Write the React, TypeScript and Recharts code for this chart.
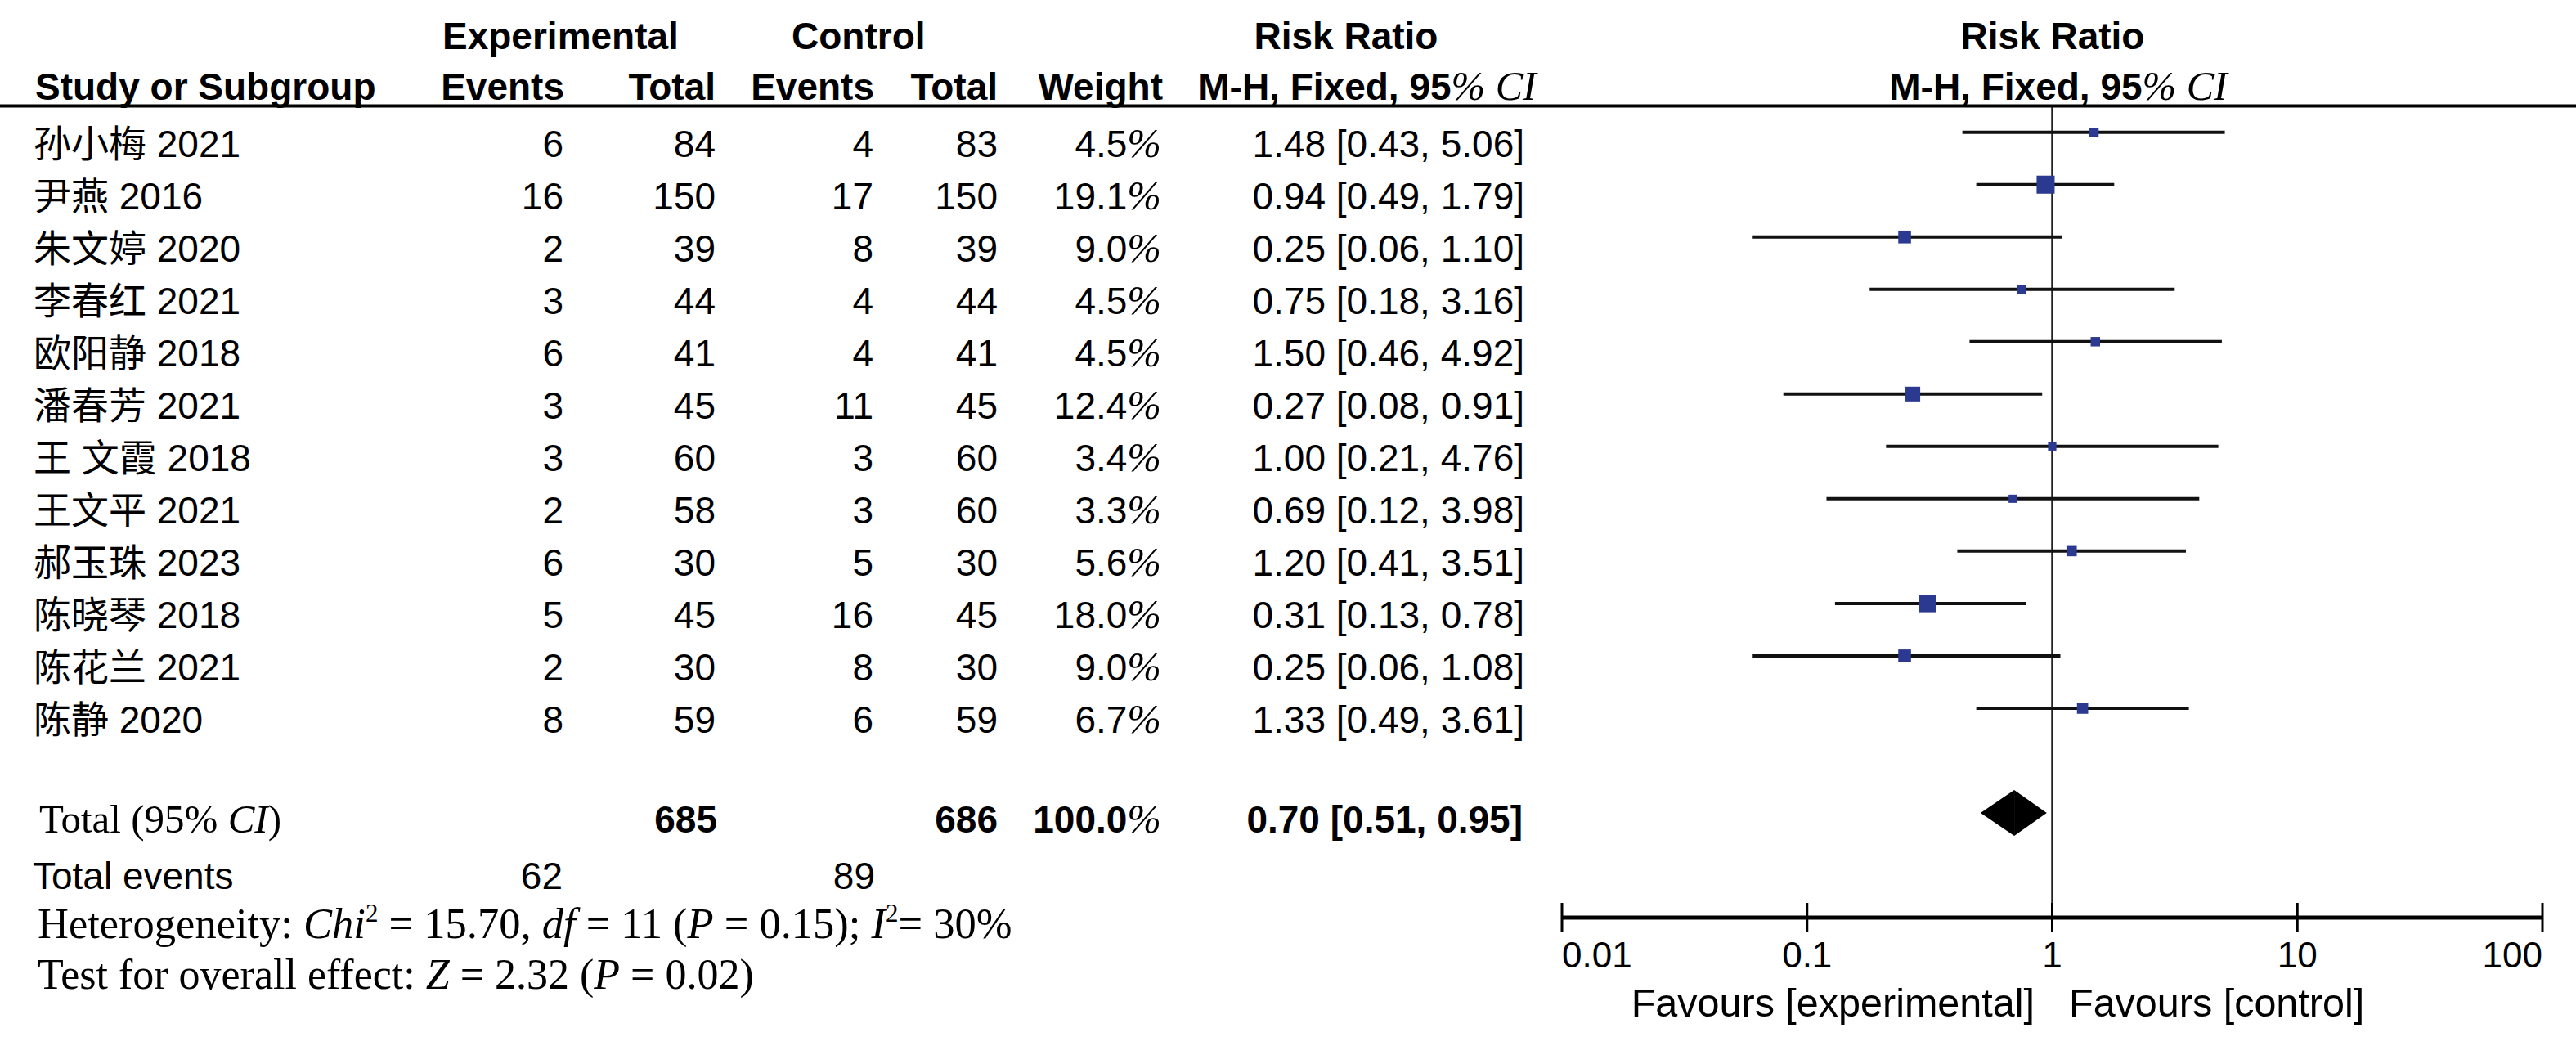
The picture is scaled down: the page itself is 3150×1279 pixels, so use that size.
import React from "react";
import {
  ComposedChart,
  XAxis,
  YAxis,
  Scatter,
  ReferenceLine,
} from "recharts";

const studies = [
  "孙小梅 2021",
  "尹燕 2016",
  "朱文婷 2020",
  "李春红 2021",
  "欧阳静 2018",
  "潘春芳 2021",
  "王 文霞 2018",
  "王文平 2021",
  "郝玉珠 2023",
  "陈晓琴 2018",
  "陈花兰 2021",
  "陈静 2020",
];
const expEvents = [6, 16, 2, 3, 6, 3, 3, 2, 6, 5, 2, 8];
const expTotal = [84, 150, 39, 44, 41, 45, 60, 58, 30, 45, 30, 59];
const ctrlEvents = [4, 17, 8, 4, 4, 11, 3, 3, 5, 16, 8, 6];
const ctrlTotal = [83, 150, 39, 44, 41, 45, 60, 60, 30, 45, 30, 59];
const weights = [4.5, 19.1, 9.0, 4.5, 4.5, 12.4, 3.4, 3.3, 5.6, 18.0, 9.0, 6.7];
const riskRatio = [1.48, 0.94, 0.25, 0.75, 1.5, 0.27, 1.0, 0.69, 1.2, 0.31, 0.25, 1.33];
const ciLow = [0.43, 0.49, 0.06, 0.18, 0.46, 0.08, 0.21, 0.12, 0.41, 0.13, 0.06, 0.49];
const ciHigh = [5.06, 1.79, 1.1, 3.16, 4.92, 0.91, 4.76, 3.98, 3.51, 0.78, 1.08, 3.61];

const total = { exp: 685, ctrl: 686, rr: 0.7, lo: 0.51, hi: 0.95, weight: 100.0 };
const totalEvents = { exp: 62, ctrl: 89 };
const xTicks = [0.01, 0.1, 1, 10, 100];
const TOTAL_ROW = 13;

const rows = studies.map((name, i) => ({
  row: i,
  name,
  expEvents: expEvents[i],
  expTotal: expTotal[i],
  ctrlEvents: ctrlEvents[i],
  ctrlTotal: ctrlTotal[i],
  weight: weights[i],
  rr: riskRatio[i],
  lo: ciLow[i],
  hi: ciHigh[i],
}));
const textRows = [...rows, { row: TOTAL_ROW, rr: total.rr, isTotal: true }];

const SANS = "'Liberation Sans', Arial, 'Noto Sans CJK SC', sans-serif";
const SERIF = "'Liberation Serif', 'Times New Roman', serif";
const FS = 46;
const BLUE = "#2B3990";

const fmt2 = (v: number) => v.toFixed(2);
const ciText = (rr: number, lo: number, hi: number) =>
  `${fmt2(rr)} [${fmt2(lo)}, ${fmt2(hi)}]`;

const Pct = () => (
  <tspan fontFamily={SERIF} fontStyle="italic" fontSize={50} fontWeight="normal">
    %
  </tspan>
);

// table text for each row, placed on the same y scale as the markers
const RowText = (props: any) => {
  const { cy, payload } = props;
  if (cy == null) return null;
  if (payload.isTotal) {
    const b = cy + 24;
    return (
      <g fontFamily={SANS} fontSize={FS} fill="#000">
        <text x={48} y={b} fontFamily={SERIF} fontSize={49}>
          Total (95% <tspan fontStyle="italic">CI</tspan>)
        </text>
        <text x={877} y={b} textAnchor="end" fontWeight="bold">{total.exp}</text>
        <text x={1220} y={b} textAnchor="end" fontWeight="bold">{total.ctrl}</text>
        <text x={1420} y={b} textAnchor="end" fontWeight="bold">
          {total.weight.toFixed(1)}
          <Pct />
        </text>
        <text x={1862} y={b} textAnchor="end" fontWeight="bold">
          {ciText(total.rr, total.lo, total.hi)}
        </text>
      </g>
    );
  }
  const r = payload;
  const b = cy + 30;
  return (
    <g fontFamily={SANS} fontSize={FS} fill="#000">
      <text x={41} y={b}>{r.name}</text>
      <text x={689} y={b} textAnchor="end">{r.expEvents}</text>
      <text x={875} y={b} textAnchor="end">{r.expTotal}</text>
      <text x={1068} y={b} textAnchor="end">{r.ctrlEvents}</text>
      <text x={1220} y={b} textAnchor="end">{r.ctrlTotal}</text>
      <text x={1420} y={b} textAnchor="end">
        {r.weight.toFixed(1)}
        <Pct />
      </text>
      <text x={1864} y={b} textAnchor="end">{ciText(r.rr, r.lo, r.hi)}</text>
    </g>
  );
};

const AxisTick = (props: any) => {
  const { x, y, payload, index } = props;
  const anchor = index === 0 ? "start" : index === xTicks.length - 1 ? "end" : "middle";
  return (
    <g>
      <line x1={x} x2={x} y1={y - 18} y2={y + 17} stroke="#000" strokeWidth={3} />
      <text
        x={x}
        y={y + 61}
        textAnchor={anchor}
        fontFamily={SANS}
        fontSize={44}
        fill="#000"
      >
        {payload.value}
      </text>
    </g>
  );
};

const Square = (props: any) => {
  const { cx, cy, payload } = props;
  if (cx == null || cy == null) return null;
  const s = 4.7 * Math.sqrt(payload.weight) + 1.5;
  return <rect x={cx - s / 2} y={cy - s / 2} width={s} height={s} fill={BLUE} />;
};

const DIAMOND_H = 28;
const DiamondLeft = (p: any) => (
  <polygon
    points={`${p.x1},${p.y1} ${p.x2},${p.y1 - DIAMOND_H} ${p.x2},${p.y1 + DIAMOND_H}`}
    fill="#000"
  />
);
const DiamondRight = (p: any) => (
  <polygon
    points={`${p.x1},${p.y1 - DIAMOND_H} ${p.x2},${p.y1} ${p.x1},${p.y1 + DIAMOND_H}`}
    fill="#000"
  />
);

const Overlay = () => (
  <svg
    width={3150}
    height={1279}
    style={{ position: "absolute", left: 0, top: 0, pointerEvents: "none" }}
  >
    <g fontFamily={SANS} fontSize={FS} fill="#000" fontWeight="bold">
      <text x={541} y={60}>Experimental</text>
      <text x={968} y={60}>Control</text>
      <text x={1646} y={60} textAnchor="middle">Risk Ratio</text>
      <text x={2510} y={60} textAnchor="middle">Risk Ratio</text>
      <text x={43} y={122}>Study or Subgroup</text>
      <text x={690} y={122} textAnchor="end">Events</text>
      <text x={875} y={122} textAnchor="end">Total</text>
      <text x={1069} y={122} textAnchor="end">Events</text>
      <text x={1220} y={122} textAnchor="end">Total</text>
      <text x={1422} y={122} textAnchor="end">Weight</text>
      <text x={1672} y={122} textAnchor="middle">
        M-H, Fixed, 95
        <tspan fontFamily={SERIF} fontStyle="italic" fontWeight="normal" fontSize={50}>
          % CI
        </tspan>
      </text>
      <text x={2517} y={122} textAnchor="middle">
        M-H, Fixed, 95
        <tspan fontFamily={SERIF} fontStyle="italic" fontWeight="normal" fontSize={50}>
          % CI
        </tspan>
      </text>
    </g>
    <line x1={0} x2={3150} y1={129.5} y2={129.5} stroke="#000" strokeWidth={4} />

    <g fontFamily={SANS} fontSize={FS} fill="#000">
      <text x={40} y={1087}>Total events</text>
      <text x={688} y={1087} textAnchor="end">{totalEvents.exp}</text>
      <text x={1070} y={1087} textAnchor="end">{totalEvents.ctrl}</text>
      <text x={2488} y={1243} textAnchor="end" fontSize={48.5}>Favours [experimental]</text>
      <text x={2530} y={1243} fontSize={48.5}>Favours [control]</text>
    </g>
    <g fontFamily={SERIF} fill="#000">
      <text x={46} y={1147} fontSize={52.5}>
        Heterogeneity: <tspan fontStyle="italic">Chi</tspan>
        <tspan fontSize={31} dy={-20}>2</tspan>
        <tspan dy={20}> = 15.70, </tspan>
        <tspan fontStyle="italic">df</tspan> = 11 (<tspan fontStyle="italic">P</tspan> = 0.15);{" "}
        <tspan fontStyle="italic">I</tspan>
        <tspan fontSize={31} dy={-20}>2</tspan>
        <tspan dy={20}>= 30%</tspan>
      </text>
      <text x={46} y={1209} fontSize={52}>
        Test for overall effect: <tspan fontStyle="italic">Z</tspan> = 2.32 (
        <tspan fontStyle="italic">P</tspan> = 0.02)
      </text>
    </g>
  </svg>
);

const App = () => {
  return (
    <div style={{ position: "absolute", left: 0, top: 0, width: 3150, height: 1279, background: "#fff" }}>
      <ComposedChart
        width={3150}
        height={1279}
        data={rows}
        margin={{ top: 131, right: 41, bottom: 57, left: 1910 }}
        style={{ overflow: "visible" }}
      >
        <XAxis
          dataKey="rr"
          type="number"
          scale="log"
          domain={[0.01, 100]}
          ticks={xTicks}
          interval={0}
          height={100}
          tickSize={0}
          tickMargin={0}
          tickLine={false}
          axisLine={{ stroke: "#000", strokeWidth: 5 }}
          tick={<AxisTick />}
        />
        <YAxis dataKey="row" type="number" domain={[-0.48, 15]} reversed hide />
        <ReferenceLine x={1} stroke="#222" strokeWidth={2.5} />
        {rows.map((r) => (
          <ReferenceLine
            key={r.name}
            segment={[
              { x: r.lo, y: r.row },
              { x: r.hi, y: r.row },
            ]}
            stroke="#111"
            strokeWidth={4}
          />
        ))}
        <ReferenceLine
          segment={[
            { x: total.lo, y: TOTAL_ROW },
            { x: total.rr, y: TOTAL_ROW },
          ]}
          shape={DiamondLeft}
        />
        <ReferenceLine
          segment={[
            { x: total.rr, y: TOTAL_ROW },
            { x: total.hi, y: TOTAL_ROW },
          ]}
          shape={DiamondRight}
        />
        <Scatter data={rows} dataKey="row" shape={Square} isAnimationActive={false} />
        <Scatter data={textRows} dataKey="row" shape={RowText} isAnimationActive={false} />
      </ComposedChart>
      <Overlay />
    </div>
  );
};

export default App;
